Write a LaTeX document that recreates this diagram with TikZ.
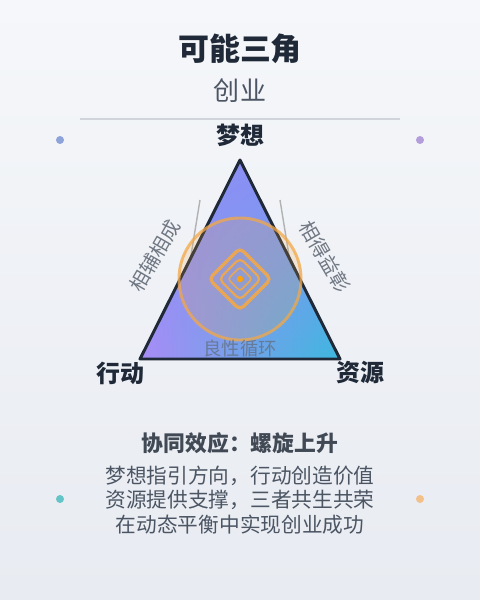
\documentclass[tikz,border=0pt]{standalone}
\usepackage{fontspec}
\setmainfont{Noto Sans CJK SC}
\usepackage{tikz}
\usetikzlibrary{shapes,calc,fadings}
\definecolor{fond}{HTML}{F5F7FA}
\definecolor{fondbas}{HTML}{E8EBF1}
\definecolor{encre}{HTML}{1F2937}
\definecolor{gris}{HTML}{4B5563}
\definecolor{trait}{HTML}{D1D5DB}
\definecolor{violet}{HTML}{AA8CF6}
\definecolor{turquoise}{HTML}{3CB9DF}
\definecolor{haut}{HTML}{8C8FF5}
\definecolor{orangec}{HTML}{F3A847}
\definecolor{ambre}{HTML}{FFA20A}
\tikzfading[name=versbas, top color=transparent!0, bottom color=transparent!100]
\tikzset{sommet/.style={
    font=\bfseries\fontsize{17}{20}\selectfont,
    text=encre}}
\tikzset{cote/.style={
    font=\fontsize{14}{16}\selectfont,
    text=gris!80,
    inner sep=0pt}}
\tikzset{losange/.style={
    draw=orangec,
    draw opacity=0.9,
    rounded corners=3.5pt}}
\tikzset{pastille/.style={
    circle,
    inner sep=0pt,
    minimum size=0.2cm}}

\begin{document}
\begin{tikzpicture}[x=0.025cm,y=-0.025cm]
\shade[top color=fond, bottom color=fondbas] (0,0) rectangle (480,600);
\useasboundingbox (0,0) rectangle (480,600);

\coordinate (A) at (240,160);
\coordinate (B) at (140,359);
\coordinate (C) at (340,359);
\coordinate (O) at (240,279);

\node[font=\bfseries\fontsize{22}{26}\selectfont, text=encre] (titre) at (240,49) {可能三角};
\node[font=\fontsize{18.5}{22}\selectfont, text=gris] (soustitre) at (240,91) {创业};
\draw[trait, line width=1.1pt] (80,119) -- (400,119);

\node[pastille, fill={rgb,255:red,143;green,163;blue,219}] (p1) at (60,140) {};
\node[pastille, fill={rgb,255:red,180;green,157;blue,219}] (p2) at (420,140) {};
\node[pastille, fill={rgb,255:red,100;green,196;blue,200}] (p3) at (60,499) {};
\node[pastille, fill={rgb,255:red,243;green,192;blue,138}] (p4) at (420,499) {};

\draw[gray!60, line width=1pt] (200,200) -- (181,317);
\draw[gray!60, line width=1pt] (280,200) -- (299,317);

\fill[left color=violet, right color=turquoise] (A) -- (B) -- (C) -- cycle;
\fill[haut, path fading=versbas] (A) -- (B) -- (C) -- cycle;
\path[draw=encre, line width=2.1pt, line join=round] (A) -- (B) -- (C) -- cycle;

\node[circle, draw=orangec, draw opacity=0.75, fill=orangec, fill opacity=0.18, line width=2.1pt, minimum size=3.05cm] (cercle) at (O) {};
\draw[losange, line width=2.3pt] ($(O)+(0,-31)$) -- ($(O)+(31,0)$) -- ($(O)+(0,31)$) -- ($(O)+(-31,0)$) -- cycle;
\draw[losange, line width=1.6pt] ($(O)+(0,-21)$) -- ($(O)+(21,0)$) -- ($(O)+(0,21)$) -- ($(O)+(-21,0)$) -- cycle;
\draw[losange, line width=1.1pt, rounded corners=2pt] ($(O)+(0,-12)$) -- ($(O)+(12,0)$) -- ($(O)+(0,12)$) -- ($(O)+(-12,0)$) -- cycle;
\node[circle, fill=ambre, inner sep=0pt, minimum size=0.16cm] (centre) at (O) {};

\node[sommet] (reve) at (240,135) {梦想};
\node[sommet] (action) at (120,373) {行动};
\node[sommet] (ressource) at (360,373) {资源};

\node[cote, rotate=60] (gauche) at (155,256) {相辅相成};
\node[cote, rotate=-60] (droite) at (325,257) {相得益彰};
\node[font=\fontsize{13}{15}\selectfont, text={rgb,255:red,100;green,116;blue,139}, text opacity=0.85] (boucle) at (240,349) {良性循环};

\node[font=\bfseries\fontsize{15.5}{18}\selectfont, text=encre!85] (synergie) at (240,443) {协同效应：螺旋上升};
\node[font=\fontsize{14.7}{17.4}\selectfont, text=gris, align=center] (texte) at (240,500) {梦想指引方向，行动创造价值\\资源提供支撑，三者共生共荣\\在动态平衡中实现创业成功};
\end{tikzpicture}
\end{document}
